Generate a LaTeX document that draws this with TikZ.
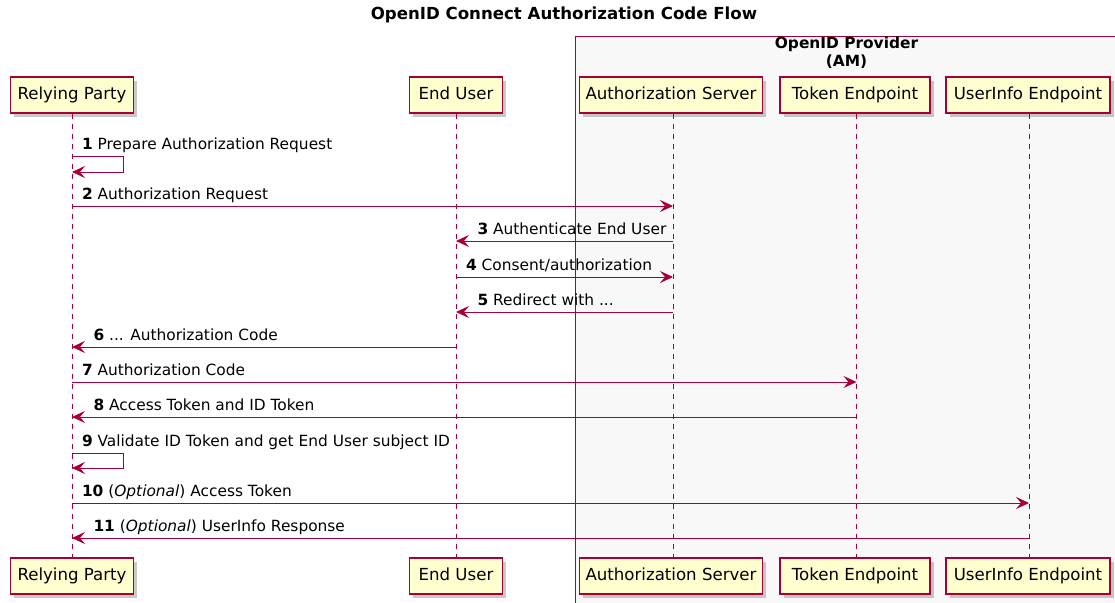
\documentclass[tikz,border=0pt]{standalone}
\usepackage{fontspec}
\setmainfont{DejaVu Sans}
\usetikzlibrary{arrows.meta,shadows}

\definecolor{pucrimson}{HTML}{A80036}
\definecolor{puyellow}{HTML}{FEFECE}
\definecolor{pugray}{HTML}{F8F8F8}

\newcommand{\msgfont}{\fontsize{15.4}{18}\selectfont}
\newcommand{\partfont}{\fontsize{16.6}{20}\selectfont}

\tikzset{
  part/.style={shape=rectangle, draw=pucrimson, fill=puyellow, line width=1.3pt,
    minimum height=36pt, inner sep=0pt, text height=12pt, text depth=3.5pt, font=\partfont,
    drop shadow={shadow xshift=3.5pt, shadow yshift=-3.5pt, opacity=0.35, fill=black!60}},
  life/.style={draw=pucrimson, line width=1pt, dash pattern=on 5pt off 5pt},
  msg/.style={draw=pucrimson, line width=1pt, -{Stealth[length=13pt,width=12pt,inset=5pt]}},
  lblr/.style={anchor=base west, inner sep=0pt, font=\msgfont, xshift=9.5pt, yshift=6.5pt},
  lbll/.style={anchor=base west, inner sep=0pt, font=\msgfont, xshift=21pt, yshift=6.5pt},
}

\begin{document}
\begin{tikzpicture}[x=1pt,y=-1pt]
\useasboundingbox (0,0) rectangle (1115,602);
\fill[white] (0,0) rectangle (1115,602);

%%% title and provider box
\node[font=\fontsize{16.6}{20}\selectfont\bfseries] (title) at (564,15) {OpenID Connect Authorization Code Flow};
\filldraw[color=pucrimson, fill=pugray, line width=0.9pt] (575,36) rectangle (1118,606);
\node[font=\msgfont\bfseries, align=center, inner sep=0pt] (op) at (846.5,53) {OpenID Provider\\(AM)};

%%% participants, top row
\node[part, minimum width=123pt] (rpT) at (72,95)   {Relying Party};
\node[part, minimum width=93pt]  (euT) at (456,95)  {End User};
\node[part, minimum width=183pt] (asT) at (671,95)  {Authorization Server};
\node[part, minimum width=150pt] (teT) at (855,95)  {Token Endpoint};
\node[part, minimum width=164pt] (uiT) at (1028,95) {UserInfo Endpoint};

%%% participants, bottom row
\node[part, minimum width=123pt] (rpB) at (72,576)   {Relying Party};
\node[part, minimum width=93pt]  (euB) at (456,576)  {End User};
\node[part, minimum width=183pt] (asB) at (671,576)  {Authorization Server};
\node[part, minimum width=150pt] (teB) at (855,576)  {Token Endpoint};
\node[part, minimum width=164pt] (uiB) at (1028,576) {UserInfo Endpoint};

%%% lifelines
\draw[life] (rpT) -- (rpB);
\draw[life] (euT) -- (euB);
\draw[life] ([xshift=2pt]asT.south) -- ([xshift=2pt]asB.north);
\draw[life] ([xshift=1.5pt]teT.south) -- ([xshift=1.5pt]teB.north);
\draw[life] ([xshift=1pt]uiT.south) -- ([xshift=1pt]uiB.north);

%%% messages
\draw[msg] (rpT |- 0,156) node[lblr] {\textbf{1} Prepare Authorization Request} -- ++(51,0) |- (rpT |- 0,172);
\draw[msg] (rpT |- 0,206) node[lblr] {\textbf{2} Authorization Request} -- ([xshift=2pt]asT |- 0,206);
\draw[msg] ([xshift=2pt]asT |- 0,241) -- (euT |- 0,241) node[lbll] {\textbf{3} Authenticate End User};
\draw[msg] (euT |- 0,277) node[lblr] {\textbf{4} Consent/authorization} -- ([xshift=2pt]asT |- 0,277);
\draw[msg] ([xshift=2pt]asT |- 0,312) -- (euT |- 0,312) node[lbll] {\textbf{5} Redirect with ...};
\draw[msg] (euT |- 0,347) -- (rpT |- 0,347) node[lbll] {\textbf{6} ... Authorization Code};
\draw[msg] (rpT |- 0,382) node[lblr] {\textbf{7} Authorization Code} -- ([xshift=1.5pt]teT |- 0,382);
\draw[msg] ([xshift=1.5pt]teT |- 0,417) -- (rpT |- 0,417) node[lbll] {\textbf{8} Access Token and ID Token};
\draw[msg] (rpT |- 0,453) node[lblr] {\textbf{9} Validate ID Token and get End User subject ID} -- ++(51,0) |- (rpT |- 0,468);
\draw[msg] (rpT |- 0,503) node[lblr] {\textbf{10} (\textit{Optional}) Access Token} -- ([xshift=1pt]uiT |- 0,503);
\draw[msg] ([xshift=1pt]uiT |- 0,538) -- (rpT |- 0,538) node[lbll] {\textbf{11} (\textit{Optional}) UserInfo Response};

\end{tikzpicture}
\end{document}
